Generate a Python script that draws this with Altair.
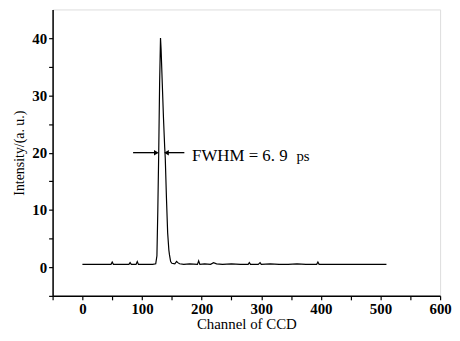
import altair as alt
import pandas as pd

# Spectrum trace (channel, intensity)
channels = [0, 10, 20, 30, 40, 48, 50, 52, 60, 70, 78, 80, 82, 90, 92, 94, 100, 110, 118, 123,
            125, 126.5, 128, 129.5, 131, 132, 134, 136, 138, 139, 141, 143, 145, 146, 148, 150,
            155, 158, 160, 163, 170, 180, 193, 195, 197, 205, 215, 220, 225, 235, 250, 265,
            278, 280, 282, 295, 298, 300, 315, 330, 345, 360, 375, 393, 395, 397, 410, 425,
            440, 455, 470, 485, 500, 510]
intensity = [0.5, 0.5, 0.5, 0.5, 0.5, 0.5, 0.9, 0.5, 0.5, 0.5, 0.5, 0.8, 0.5, 0.5, 1.0, 0.5, 0.5, 0.5, 0.5, 0.6,
             2, 10, 20, 32, 40, 38, 32, 26, 21, 19, 12, 6, 3, 2.2, 1.0, 0.7,
             0.6, 1.0, 0.8, 0.6, 0.5, 0.6, 0.5, 1.1, 0.5, 0.6, 0.5, 0.8, 0.6, 0.5, 0.6, 0.5,
             0.5, 0.8, 0.5, 0.5, 0.8, 0.5, 0.6, 0.5, 0.5, 0.6, 0.5, 0.5, 0.9, 0.5, 0.5, 0.5,
             0.5, 0.5, 0.5, 0.5, 0.5, 0.5]

# FWHM arrows
arrow_x1 = [85, 171]
arrow_x2 = [124, 141]
arrow_y = [20, 20]
arrow_tip = [124, 141]
arrow_shape = ["triangle-right", "triangle-left"]

label_text = ["FWHM = 6. 9", "ps"]
label_x = [184, 359]
label_y = [18.6, 18.6]
label_size = [17, 15]

x_ticks = list(range(-50, 601, 50))
y_ticks = list(range(-5, 41, 5))

trace = pd.DataFrame({"ch": channels, "I": intensity})
arrows = pd.DataFrame({"x1": arrow_x1, "x2": arrow_x2, "y": arrow_y,
                       "tip": arrow_tip, "shape": arrow_shape})
labels = pd.DataFrame({"t": label_text, "x": label_x, "y": label_y, "s": label_size})

FONT = "Liberation Serif"

xscale = alt.Scale(domain=[-50, 600], nice=False, zero=False)
yscale = alt.Scale(domain=[-5, 45], nice=False, zero=False)

xaxis = alt.Axis(title="Channel of CCD", values=x_ticks,
                 labelExpr="(datum.value % 100 == 0 && datum.value >= 0) ? datum.label : ''",
                 grid=False, domainColor="black", domainWidth=1.5, tickColor="black",
                 tickWidth=1.2, tickSize=4, labelFont=FONT, labelFontSize=15,
                 labelFontWeight="bold", labelColor="black", titleFont=FONT,
                 titleFontSize=15, titleFontWeight="normal", titleColor="black",
                 titlePadding=0, labelPadding=2, labelOverlap=False, labelFlush=False)
yaxis = alt.Axis(title="Intensity/(a. u.)", values=y_ticks,
                 labelExpr="(datum.value % 10 == 0 && datum.value >= 0) ? datum.label : ''",
                 grid=False, domainColor="black", domainWidth=1.5, tickColor="black",
                 tickWidth=1.2, tickSize=4, labelFont=FONT, labelFontSize=15,
                 labelFontWeight="bold", labelColor="black", titleFont=FONT,
                 titleFontSize=14, titleFontWeight="normal", titleColor="black",
                 titlePadding=5, labelPadding=2, labelOverlap=False, labelFlush=False)

line = alt.Chart(trace).mark_line(color="black", strokeWidth=1.2).encode(
    x=alt.X("ch:Q", scale=xscale, axis=xaxis),
    y=alt.Y("I:Q", scale=yscale, axis=yaxis),
)

rules = alt.Chart(arrows).mark_rule(color="black", strokeWidth=1.3).encode(
    x=alt.X("x1:Q", scale=xscale, axis=xaxis), x2="x2:Q",
    y=alt.Y("y:Q", scale=yscale, axis=yaxis)
)

heads = alt.Chart(arrows).mark_point(filled=True, color="black", size=30, opacity=1).encode(
    x=alt.X("tip:Q", scale=xscale, axis=xaxis), y=alt.Y("y:Q", scale=yscale, axis=yaxis),
    shape=alt.Shape("shape:N", scale=None, legend=None)
)

text = alt.Chart(labels).mark_text(align="left", baseline="alphabetic", font=FONT,
                                   color="black").encode(
    x=alt.X("x:Q", scale=xscale, axis=xaxis), y=alt.Y("y:Q", scale=yscale, axis=yaxis),
    text="t:N",
    size=alt.Size("s:Q", scale=None, legend=None)
)

chart = alt.layer(line, rules, heads, text).properties(
    width=448, height=325,
    padding={"left": 5, "top": 0, "right": 0, "bottom": 0},
    autosize=alt.AutoSizeParams(type="fit", contains="padding"),
).configure_view(stroke=None).configure(background="white")

chart.save("out.html", embed_options={"renderer": "svg", "actions": False})
